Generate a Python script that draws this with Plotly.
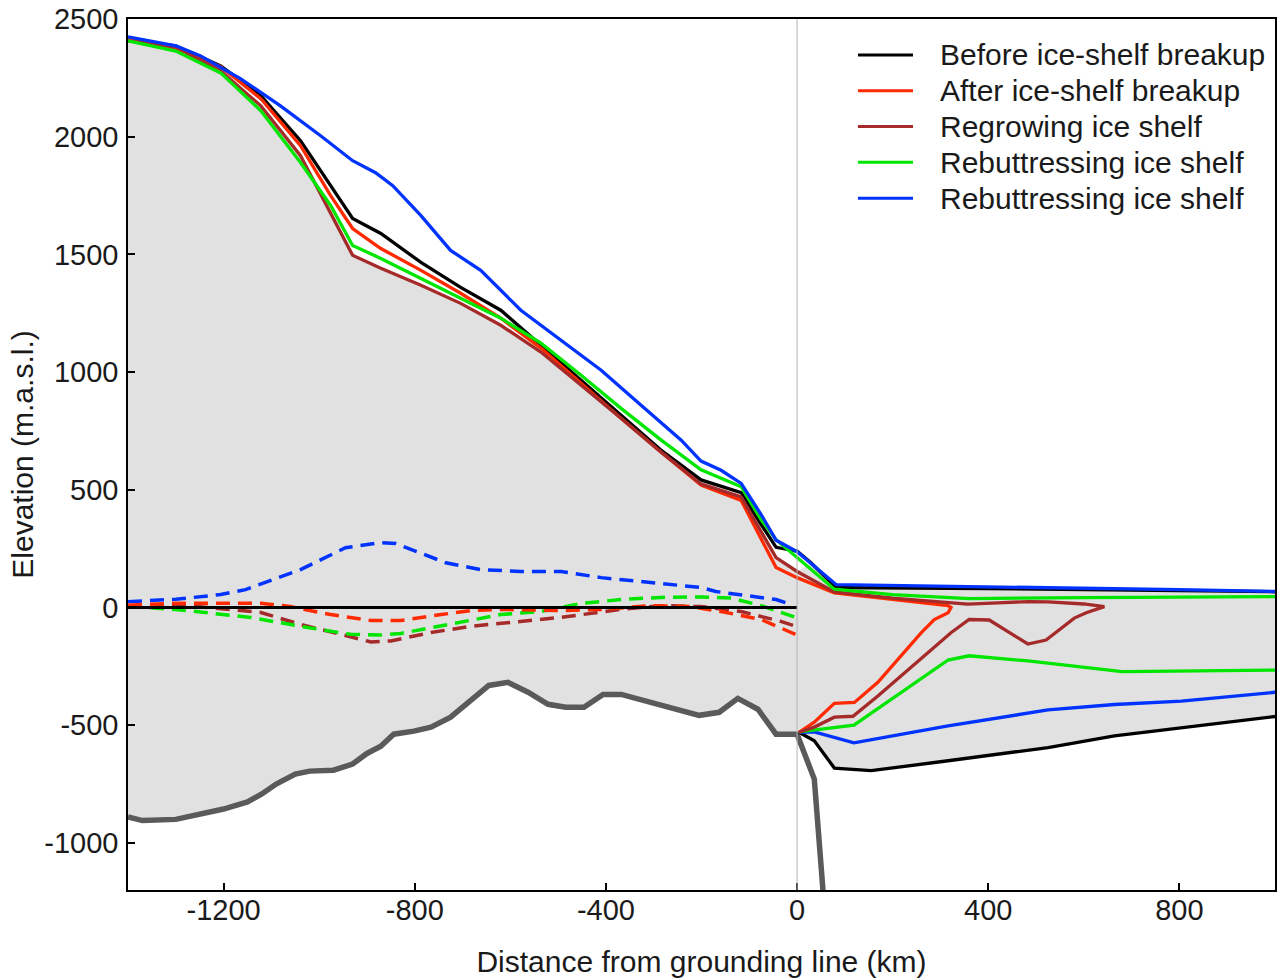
import plotly.graph_objects as go

# ---------------- data ----------------
# grounded-surface x grid (km from grounding line)
surf_x = [-1400, -1300, -1206, -1122, -1039, -976, -930, -871, -787, -704,
          -620, -536, -452, -369, -285, -201, -117, -75, -44, 0]

# Before ice-shelf breakup (black)
before_surf = [2411, 2386, 2301, 2174, 1983, 1792, 1653, 1589, 1466, 1360,
               1263, 1114, 966, 818, 669, 542, 488, 352, 256, 240]
before_shelf_x = [29, 82, 200, 400, 600, 800, 1000]
before_shelf_top = [190, 85, 84, 80, 76, 72, 67]
before_base_x = [4, 36, 78, 155, 316, 525, 664, 804, 1000]
before_base_y = [-530, -566, -682, -693, -651, -595, -545, -510, -463]

# After ice-shelf breakup (red)
after_surf = [2415, 2377, 2297, 2161, 1962, 1750, 1610, 1525, 1432, 1335,
              1229, 1102, 953, 805, 661, 520, 455, 288, 170, 127]
after_shelf_x = [78, 176, 260, 316, 322, 316, 287, 260, 169, 120, 78, 36, 4]
after_shelf_y = [62, 40, 22, 8, 0, -22, -51, -107, -318, -403, -407, -487, -530]

# Regrowing ice shelf (brown)
regrow_surf = [2407, 2381, 2280, 2131, 1919, 1678, 1496, 1441, 1369, 1292,
               1199, 1085, 945, 805, 661, 525, 470, 322, 212, 153]
regrow_shelf_x = [78, 200, 300, 357, 420, 483, 525, 600, 643,
                  605, 580, 521, 483, 402, 360, 322, 169, 117, 78, 36, 4]
regrow_shelf_y = [66, 40, 22, 14, 20, 25, 24, 15, 4,
                  -22, -45, -138, -155, -53, -51, -107, -376, -462, -466, -508, -530]

# Rebuttressing ice shelf (green)
rebut_g_surf = [2407, 2364, 2271, 2110, 1890, 1708, 1538, 1483, 1398, 1314,
                1229, 1123, 987, 847, 712, 585, 513, 373, 288, 212]
rebut_g_top_x = [78, 200, 360, 600, 1000]
rebut_g_top_y = [78, 55, 38, 42, 46]
rebut_g_base_x = [4, 50, 119, 316, 360, 483, 595, 680, 1000]
rebut_g_base_y = [-528, -517, -500, -223, -205, -227, -254, -272, -266]

# Rebuttressing ice shelf (blue)
rebut_b_x = [-1400, -1300, -1248, -1164, -1081, -997, -930, -882, -846, -787,
             -725, -662, -578, -494, -410, -327, -243, -201, -159, -117, -75, -44, 0]
rebut_b_surf = [2424, 2386, 2343, 2246, 2131, 2004, 1898, 1847, 1792, 1665,
                1517, 1432, 1263, 1136, 1008, 860, 712, 622, 583, 527, 394, 286, 237]
rebut_b_top_x = [82, 200, 400, 600, 800, 1000]
rebut_b_top_y = [97, 94, 88, 82, 76, 68]
rebut_b_base_x = [4, 36, 119, 316, 525, 664, 804, 1000]
rebut_b_base_y = [-530, -528, -575, -503, -435, -412, -398, -360]

# Bed topography (grey)
bed_x = [-1400, -1370, -1300, -1250, -1200, -1150, -1120, -1090, -1050, -1020,
         -970, -930, -900, -871, -844, -802, -766, -725, -689, -645, -605,
         -563, -521, -484, -446, -406, -368, -312, -258, -205, -163, -124,
         -82, -44, 0, 36, 58]
bed_y = [-890, -905, -900, -878, -856, -826, -792, -750, -708, -695,
         -691, -665, -620, -589, -538, -525, -508, -466, -403, -331, -318,
         -360, -411, -424, -424, -369, -369, -398, -428, -458, -445, -386,
         -432, -538, -538, -729, -1300]

# Dashed lines (grounded region)
dash_blue_x = [-1400, -1300, -1206, -1154, -1039, -945, -871, -840, -735, -662,
               -578, -494, -410, -327, -201, -170, -117, -44, -13]
dash_blue_y = [25, 35, 55, 76, 161, 254, 276, 272, 190, 161,
               153, 153, 127, 110, 85, 68, 55, 34, 13]
dash_green_x = [-1400, -1300, -1143, -1039, -934, -871, -829, -725, -620, -536,
                -452, -369, -285, -201, -138, -75, 0]
dash_green_y = [5, -8, -42, -80, -114, -117, -110, -72, -30, -17,
                17, 34, 43, 45, 40, 8, -44]
dash_red_x = [-1400, -1300, -1206, -1122, -1060, -976, -892, -829, -745, -683,
              -620, -494, -410, -306, -222, -159, -75, 0]
dash_red_y = [10, 18, 18, 18, 4, -30, -55, -55, -30, -13,
              -8, -13, -8, 8, 4, -17, -51, -117]
dash_brown_x = [-1400, -1300, -1122, -1039, -955, -892, -850, -766, -683, -578,
                -494, -369, -285, -201, -117, -34, 0]
dash_brown_y = [5, 13, -21, -72, -114, -146, -142, -106, -80, -59,
                -42, -8, 8, 4, -17, -59, -82]
zero_x = [-1400, 0]
zero_y = [0, 0]

# tick labels
x_tickvals = [-1200, -800, -400, 0, 400, 800]
x_ticktext = ["-1200", "-800", "-400", "0", "400", "800"]
y_tickvals = [-1000, -500, 0, 500, 1000, 1500, 2000, 2500]
y_ticktext = ["-1000", "-500", "0", "500", "1000", "1500", "2000", "2500"]

# legend entries
legend_names = ["Before ice-shelf breakup", "After ice-shelf breakup",
                "Regrowing ice shelf", "Rebuttressing ice shelf",
                "Rebuttressing ice shelf"]

# colours
C_BLACK = "#000000"
C_RED = "#ff2a00"
C_BROWN = "#a52a2a"
C_GREEN = "#00e600"
C_BLUE = "#0033ff"
C_BED = "#5a5a5a"
C_FILL = "#e1e1e1"
legend_colors = [C_BLACK, C_RED, C_BROWN, C_GREEN, C_BLUE]

fig = go.Figure()

# grey ice body fill
fill_x = surf_x + before_shelf_x + before_base_x[::-1] + bed_x[:35][::-1]
fill_y = regrow_surf + before_shelf_top + before_base_y[::-1] + bed_y[:35][::-1]
fig.add_trace(go.Scatter(x=fill_x, y=fill_y, mode="lines", fill="toself",
                         fillcolor=C_FILL, line=dict(width=0), showlegend=False,
                         hoverinfo="skip"))

LW = 3.3
DASH = "14px,8px"

# dashed lines
for xs, ys, c in [(dash_blue_x, dash_blue_y, C_BLUE),
                  (dash_brown_x, dash_brown_y, C_BROWN),
                  (dash_green_x, dash_green_y, C_GREEN),
                  (dash_red_x, dash_red_y, C_RED)]:
    fig.add_trace(go.Scatter(x=xs, y=ys, mode="lines",
                             line=dict(color=c, width=3.5, dash=DASH),
                             showlegend=False))
fig.add_trace(go.Scatter(x=zero_x, y=zero_y, mode="lines",
                         line=dict(color=C_BLACK, width=3), showlegend=False))

# bed
fig.add_trace(go.Scatter(x=bed_x, y=bed_y, mode="lines",
                         line=dict(color=C_BED, width=5.5), showlegend=False))

# shelf bases / floating parts
fig.add_trace(go.Scatter(x=before_base_x, y=before_base_y, mode="lines",
                         line=dict(color=C_BLACK, width=LW), showlegend=False))
fig.add_trace(go.Scatter(x=rebut_b_base_x, y=rebut_b_base_y, mode="lines",
                         line=dict(color=C_BLUE, width=LW), showlegend=False))
fig.add_trace(go.Scatter(x=rebut_g_base_x, y=rebut_g_base_y, mode="lines",
                         line=dict(color=C_GREEN, width=LW), showlegend=False))

# surfaces
surface_sets = [
    (surf_x + before_shelf_x, before_surf + before_shelf_top),
    (surf_x + after_shelf_x, after_surf + after_shelf_y),
    (surf_x + regrow_shelf_x, regrow_surf + regrow_shelf_y),
    (surf_x + rebut_g_top_x, rebut_g_surf + rebut_g_top_y),
    (rebut_b_x + rebut_b_top_x, rebut_b_surf + rebut_b_top_y),
]
for (xs, ys), name, c in zip(surface_sets, legend_names, legend_colors):
    fig.add_trace(go.Scatter(x=xs, y=ys, mode="lines", name=name,
                             line=dict(color=c, width=LW), showlegend=False))

FONT = "Arial, Liberation Sans, sans-serif"

fig.add_shape(type="line", xref="x", yref="paper", x0=0, x1=0, y0=0, y1=1,
              line=dict(color="#b4b4b4", width=1), layer="above")

# legend drawn as text + sample lines (matches the reference's compact spacing)
LEG_Y0 = 0.9587
LEG_DY = 0.0411
for i, (name, c) in enumerate(zip(legend_names, legend_colors)):
    yy = LEG_Y0 - i * LEG_DY
    fig.add_shape(type="line", xref="paper", yref="paper",
                  x0=0.6364, x1=0.6844, y0=yy, y1=yy,
                  line=dict(color=c, width=3), layer="above")
    fig.add_annotation(xref="paper", yref="paper", x=0.7062, y=yy,
                       text=name, showarrow=False, xanchor="left", yanchor="middle",
                       font=dict(family=FONT, size=30, color="#1a1a1a"))

fig.update_layout(
    width=1281, height=980,
    margin=dict(l=128, r=6, t=19, b=90, autoexpand=False),
    paper_bgcolor="white", plot_bgcolor="white",
    font=dict(family=FONT, size=29, color="#1a1a1a"),
    showlegend=False,
    xaxis=dict(range=[-1400, 1000], tickvals=x_tickvals, ticktext=x_ticktext,
               ticks="inside", ticklen=7, tickwidth=1.5, tickcolor="black",
               showline=True, linecolor="black", linewidth=1.5, mirror=True,
               showgrid=False, zeroline=False, automargin=False,
               ticklabelstandoff=-7, ticklabeloverflow="allow",
               title=dict(text="Distance from grounding line (km)",
                          font=dict(size=30), standoff=26),
               tickfont=dict(size=29)),
    yaxis=dict(range=[-1200, 2500], tickvals=y_tickvals, ticktext=y_ticktext,
               ticks="inside", ticklen=7, tickwidth=1.5, tickcolor="black",
               showline=True, linecolor="black", linewidth=1.5, mirror=True,
               showgrid=False, zeroline=False, automargin=False,
               ticklabelstandoff=2, ticklabeloverflow="allow",
               title=dict(text="Elevation (m.a.s.l.)", font=dict(size=30), standoff=2),
               tickfont=dict(size=29)),
)

fig.write_html("out.html", config={"displayModeBar": False},
               post_script="document.body.style.margin='0';document.body.style.overflow='hidden';")
